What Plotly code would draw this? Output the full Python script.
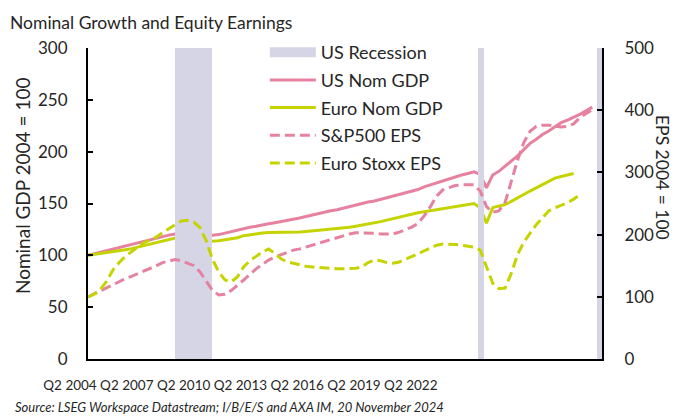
import plotly.graph_objects as go

# quarterly points starting Q2 2004 (decimal-year positions)
start_year = 2004.43
step = 0.25

us_gdp = [100, 101.5, 103, 104.5, 106, 107.5, 109, 111, 112.5, 114, 115.5, 117, 118, 119.5, 120.5,
          121.5, 122.5, 122.5, 121.5, 120, 119.5, 120, 121.5, 123, 124, 125.5, 127, 128, 129.5, 130.5,
          131.5, 132.5, 133.5, 134.5, 136, 137.5, 139, 140.5, 142, 143, 144, 145.5, 147, 148.5, 150.5,
          151.5, 152.5, 154, 155.5, 157, 158.5, 160, 161.5, 163.5, 166, 168, 170, 172, 173.5, 175.5,
          177.5, 179, 180.5, 178, 165, 177.5, 181, 186, 191, 196, 202, 208, 212, 216.5, 220, 224, 228,
          230.5, 233, 236, 239.5, 243]
euro_gdp = [100, 100.8, 101.6, 102.5, 103.3, 104.3, 105.3, 106.5, 108, 109.5, 111, 112.5, 114, 115.5,
            117, 118.5, 119.6, 119.8, 118.5, 115.5, 113.5, 114, 115, 116, 117, 119, 120, 120.7, 121.5,
            122, 122, 122, 122, 122.5, 122.5, 123, 123.5, 124, 124.5, 125.5, 126, 126.5, 127, 128, 129,
            130, 131, 132.5, 134, 135.5, 137, 138.5, 140, 141, 142, 143, 144, 145.5, 146.5, 147.5, 148.5,
            149.5, 150, 146, 131, 146, 147.5, 149, 152, 155.5, 159, 162, 165, 168, 171, 174.5, 176, 177.5,
            179]
sp500_eps = [100, 105, 110, 115, 120, 125, 129, 133, 137, 142, 146, 150, 155, 158, 160, 158, 154, 150,
             140, 124, 110, 103, 104, 110, 118, 127, 136, 145, 152, 159, 164, 168, 172, 175, 177, 180,
             183, 186, 189, 193, 196, 199, 201, 203, 203, 203, 202, 201, 201, 201, 204, 208, 212, 218,
             230, 245, 262, 272, 276, 279, 280, 280, 280, 270, 245, 236, 238, 252, 285, 320, 348, 366,
             374, 376, 376, 374, 373, 374, 378, 388, 395, 401]
stoxx_eps = [100, 104, 112, 125, 143, 155, 165, 173, 180, 187, 192, 196, 203, 210, 216, 222, 223, 220,
             211, 190, 160, 140, 127, 124, 132, 148, 158, 165, 172, 177, 170, 161, 156, 154, 151, 149,
             148, 147, 146, 145, 145, 145, 145, 146, 148, 155, 159, 158, 155, 154, 156, 160, 164, 169,
             174, 179, 183, 185, 185, 184, 183, 182, 180, 175, 150, 122, 113, 114, 138, 168, 188, 203,
             216, 227, 238, 243, 247, 251, 257, 264]

# US recessions (decimal years)
rec_start = [2007.92, 2020.08, 2024.88]
rec_end = [2009.42, 2020.33, 2025.20]

tick_labels = ["Q2 2004", "Q2 2007", "Q2 2010", "Q2 2013", "Q2 2016", "Q2 2019", "Q2 2022"]

PINK = "#E6829F"
GREEN = "#C5D400"
REC = "#D5D5E6"
FONT = "Lato"
TXT = "#262626"


def xs(n):
    return [start_year + i * step for i in range(n)]


fig = go.Figure()

# recession bands as bars on secondary axis
fig.add_trace(go.Bar(
    x=[(a + b) / 2 for a, b in zip(rec_start, rec_end)],
    y=[500] * len(rec_start),
    width=[b - a for a, b in zip(rec_start, rec_end)],
    marker=dict(color=REC, line=dict(width=0)),
    yaxis="y2", showlegend=False, hoverinfo="skip", legendgroup="rec"))
# legend entry for recession
fig.add_trace(go.Scatter(x=[None], y=[None], mode="lines", name="US Recession",
                         line=dict(color=REC, width=11), legendgroup="rec"))

fig.add_trace(go.Scatter(x=xs(len(us_gdp)), y=us_gdp, mode="lines", name="US Nom GDP",
                         line=dict(color=PINK, width=3), legendgroup="g1"))
fig.add_trace(go.Scatter(x=xs(len(euro_gdp)), y=euro_gdp, mode="lines", name="Euro Nom GDP",
                         line=dict(color=GREEN, width=3), legendgroup="g2"))
fig.add_trace(go.Scatter(x=xs(len(sp500_eps)), y=sp500_eps, mode="lines", name="S&P500 EPS",
                         line=dict(color=PINK, width=3, dash="10px,5px"), yaxis="y2",
                         legendgroup="g3"))
fig.add_trace(go.Scatter(x=xs(len(stoxx_eps)), y=stoxx_eps, mode="lines", name="Euro Stoxx EPS",
                         line=dict(color=GREEN, width=3, dash="10px,5px"), yaxis="y2",
                         legendgroup="g4"))

# label axis carrier
fig.add_trace(go.Scatter(x=list(range(len(tick_labels))), y=[None] * len(tick_labels),
                         xaxis="x3", showlegend=False, hoverinfo="skip", mode="lines"))

fig.update_layout(
    width=675, height=409,
    margin=dict(l=80, r=81, t=40, b=58),
    paper_bgcolor="white", plot_bgcolor="white",
    font=dict(family=FONT, size=16, color=TXT),
    bargap=0,
    showlegend=True,
    legend=dict(x=0.344, y=1.045, xanchor="left", yanchor="top",
                bgcolor="rgba(0,0,0,0)", itemwidth=46, tracegroupgap=1.3,
                font=dict(family=FONT, size=18, color=TXT)),
    xaxis=dict(range=[2004.43, 2025.07], showline=True, linecolor="black", linewidth=2,
               showticklabels=False, ticks="", showgrid=False, zeroline=False, automargin=False),
    xaxis3=dict(overlaying="x", anchor="y", side="bottom", range=[-0.211, 8.838],
                tickvals=list(range(len(tick_labels))), ticktext=tick_labels, tickangle=0,
                showline=False, showgrid=False, zeroline=False, ticks="", automargin=False,
                ticklabelshift=-30, ticklabelstandoff=16,
                tickfont=dict(family=FONT, size=13.5, color=TXT)),
    yaxis=dict(range=[0, 300], dtick=50, showline=True, linecolor="black", linewidth=2,
               ticks="inside", ticklen=5, tickwidth=2, tickcolor="black", showgrid=False,
               zeroline=False, ticklabelstandoff=15, automargin=False,
               tickfont=dict(family=FONT, size=17, color=TXT)),
    yaxis2=dict(range=[0, 500], dtick=100, overlaying="y", side="right", showline=True,
                linecolor="black", linewidth=2, ticks="inside", ticklen=5, tickwidth=2,
                tickcolor="black", showgrid=False, zeroline=False, ticklabelstandoff=17,
                automargin=False, tickfont=dict(family=FONT, size=17, color=TXT)),
    annotations=[
        dict(text="Nominal Growth and Equity Earnings", xref="paper", yref="paper",
             x=-0.1556, y=1.0804, xanchor="left", yanchor="middle", showarrow=False,
             font=dict(family=FONT, size=17.5, color=TXT)),
        dict(text="Nominal GDP 2004 = 100", xref="paper", yref="paper", x=-0.1284, y=0.556,
             textangle=-90, showarrow=False, xanchor="center", yanchor="middle",
             font=dict(family=FONT, size=19, color=TXT)),
        dict(text="EPS 2004 = 100", xref="paper", yref="paper", x=1.1167, y=0.582,
             textangle=90, showarrow=False, xanchor="center", yanchor="middle",
             font=dict(family=FONT, size=17.5, color=TXT)),
        dict(text="<i>Source: LSEG Workspace Datastream; I/B/E/S and AXA IM, 20 November 2024</i>",
             xref="paper", yref="paper", x=-0.1459, y=-0.1543, xanchor="left", yanchor="middle",
             showarrow=False, font=dict(family=FONT, size=13, color=TXT)),
    ],
)

fig.write_html("out.html")
